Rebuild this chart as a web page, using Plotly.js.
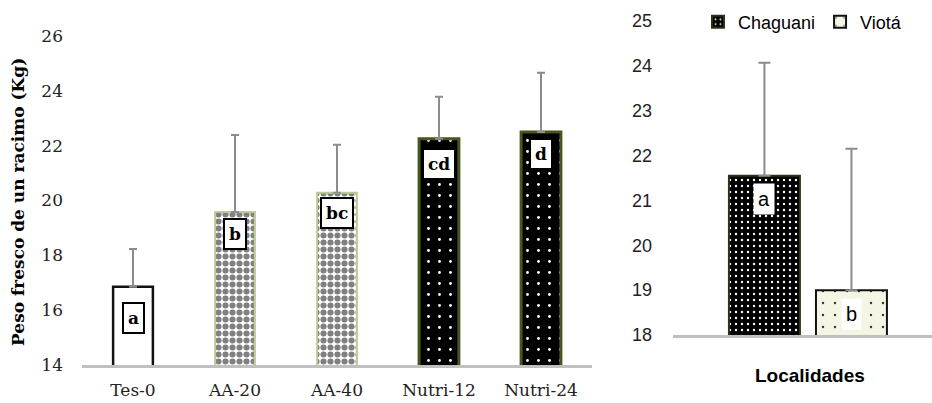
<!DOCTYPE html>
<html><head><meta charset="utf-8">
<script src="https://cdn.plot.ly/plotly-3.0.1.min.js"></script>
<style>html,body{margin:0;padding:0;background:#fff}#chart{width:932px;height:403px}</style>
</head><body><div id="chart"></div>
<script>
const treatments = ['Tes-0', 'AA-20', 'AA-40', 'Nutri-12', 'Nutri-24'];
const treatmentMeans = [16.85, 19.58, 20.28, 22.25, 22.5];
const treatmentUpper = [18.23, 22.39, 22.03, 23.78, 24.66];
const treatmentLetters = ['a', 'b', 'bc', 'cd', 'd'];
const locations = ['Chaguani', 'Viotá'];
const locationMeans = [21.55, 19.0];
const locationUpper = [24.07, 22.15];
const locationLetters = ['a', 'b'];
const leftTicks = [14, 16, 18, 20, 22, 24, 26];
const rightTicks = [18, 19, 20, 21, 22, 23, 24, 25];

const W = 932, H = 403;
const px = v => v / W, py = v => (H - v) / H;
const serif = 'DejaVu Serif';
const sans = 'Liberation Sans, Arial';

const treatStyles = [
  {bg: '#ffffff', fg: '#ffffff', line: '#111111', lw: 2.5, shape: '', size: 8, sol: 0.3},
  {bg: '#ffffff', fg: '#808080', line: '#bccb94', lw: 2, shape: '.', size: 7, sol: 0.6},
  {bg: '#ffffff', fg: '#808080', line: '#bccb94', lw: 2, shape: '.', size: 7, sol: 0.6},
  {bg: '#000000', fg: '#ffffff', line: '#47561c', lw: 3, shape: '.', size: 11, sol: 0.05},
  {bg: '#000000', fg: '#ffffff', line: '#47561c', lw: 3, shape: '.', size: 11, sol: 0.05}
];
const leftTraces = treatments.map((t, i) => ({
  type: 'bar', x: [t], y: [treatmentMeans[i]], xaxis: 'x', yaxis: 'y',
  width: 0.39, showlegend: false, hoverinfo: 'skip',
  error_y: {type: 'data', symmetric: false, array: [treatmentUpper[i] - treatmentMeans[i]], arrayminus: [0],
    color: '#8c8c8c', thickness: 2, width: 4},
  marker: {
    color: treatStyles[i].bg,
    line: {color: treatStyles[i].line, width: treatStyles[i].lw},
    pattern: {shape: treatStyles[i].shape, fgcolor: treatStyles[i].fg, bgcolor: treatStyles[i].bg,
      size: treatStyles[i].size, solidity: treatStyles[i].sol, fillmode: 'replace'}
  }
}));

const locWidth = 0.274;
const locOffset = [-0.284, 0.052];
const locStyles = [
  {bg: '#000000', fg: '#ffffff', line: '#2e3315', size: 6, sol: 0.12},
  {bg: '#f5f5e6', fg: '#333333', line: '#111111', size: 12, sol: 0.03}
];
const rightTraces = locations.map((name, i) => ({
  type: 'bar', name: name, x: ['L'], y: [locationMeans[i]], xaxis: 'x2', yaxis: 'y2',
  width: locWidth, offset: locOffset[i], hoverinfo: 'skip',
  error_y: {type: 'data', symmetric: false, array: [locationUpper[i] - locationMeans[i]], arrayminus: [0],
    color: '#8c8c8c', thickness: 2, width: 6},
  marker: {
    color: locStyles[i].bg,
    line: {color: locStyles[i].line, width: 2},
    pattern: {shape: '.', fgcolor: locStyles[i].fg, bgcolor: locStyles[i].bg,
      size: locStyles[i].size, solidity: locStyles[i].sol, fillmode: 'replace'}
  }
}));

const leftShift = [-15, -6, -4, -9, -6];
const annotations = treatments.map((t, i) => ({
  xref: 'x', yref: 'y', x: t, y: treatmentMeans[i], yanchor: 'top', yshift: leftShift[i],
  text: treatmentLetters[i], showarrow: false,
  font: {family: serif, size: 17, color: '#000', weight: 'bold'},
  bgcolor: '#ffffff', bordercolor: '#000000', borderwidth: 2, borderpad: 4
}));
const rightShift = [-7, -8];
locations.forEach((n, i) => annotations.push({
  xref: 'x2', yref: 'y2', x: locOffset[i] + locWidth / 2, y: locationMeans[i], yanchor: 'top', yshift: rightShift[i],
  text: locationLetters[i], showarrow: false,
  font: {family: sans, size: 20, color: '#000'},
  bgcolor: '#ffffff', borderpad: 4
}));
annotations.push({
  xref: 'paper', yref: 'paper', x: px(18), y: py(202), textangle: -90, showarrow: false,
  text: 'Peso fresco de un racimo (Kg)', xanchor: 'center', yanchor: 'middle',
  font: {family: serif, size: 17, color: '#000', weight: 'bold'}
});
annotations.push({
  xref: 'paper', yref: 'paper', x: px(810), y: py(375), showarrow: false,
  text: 'Localidades', xanchor: 'center', yanchor: 'middle',
  font: {family: sans, size: 19, color: '#000', weight: 'bold'}
});

const layout = {
  width: W, height: H, margin: {l: 0, r: 0, t: 0, b: 0},
  paper_bgcolor: '#ffffff', plot_bgcolor: 'rgba(0,0,0,0)',
  showlegend: true, barmode: 'overlay',
  legend: {orientation: 'h', x: px(698), y: py(22), xanchor: 'left', yanchor: 'middle',
    font: {family: sans, size: 18, color: '#000'}, itemwidth: 30, bgcolor: 'rgba(0,0,0,0)'},
  xaxis: {domain: [px(82), px(592)], type: 'category', range: [-0.5, 4.5],
    showline: true, linecolor: '#c0c0c0', linewidth: 3, ticks: '', showgrid: false, zeroline: false,
    tickfont: {family: serif, size: 17, color: '#222'}, ticklabelstandoff: 8},
  yaxis: {domain: [py(365), py(36)], range: [14, 26], tickvals: leftTicks, showgrid: false, zeroline: false,
    showline: false, ticks: '', tickfont: {family: serif, size: 17, color: '#222'}, ticklabelstandoff: 18},
  xaxis2: {domain: [px(673), 1], type: 'category', range: [-0.5, 0.5], anchor: 'y2',
    showline: true, linecolor: '#c0c0c0', linewidth: 3, ticks: '', showticklabels: false, showgrid: false, zeroline: false},
  yaxis2: {domain: [py(335), py(21)], range: [18, 25], tickvals: rightTicks, anchor: 'x2', showgrid: false, zeroline: false,
    showline: false, ticks: '', tickfont: {family: sans, size: 18, color: '#222'}, ticklabelstandoff: 20},
  annotations: annotations
};

Plotly.newPlot('chart', leftTraces.concat(rightTraces), layout, {staticPlot: true, displayModeBar: false});
</script></body></html>
